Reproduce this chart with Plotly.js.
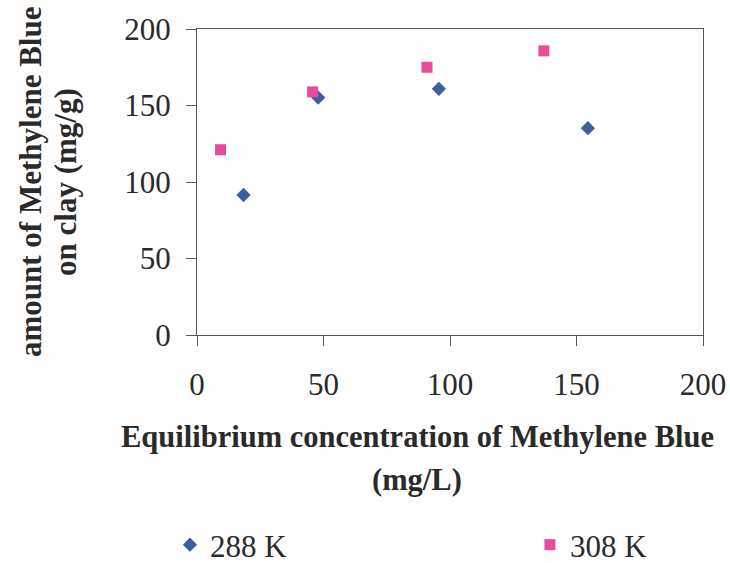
<!DOCTYPE html>
<html>
<head>
<meta charset="utf-8">
<script src="https://cdn.plot.ly/plotly-3.0.1.min.js"></script>
<style>html,body{margin:0;padding:0;background:#fff;}#chart{width:730px;height:563px;}</style>
</head>
<body>
<div id="chart"></div>
<script>
const x288 = [18.4, 47.9, 95.6, 154.5];
const y288 = [91.5, 155.2, 160.9, 135.2];
const x308 = [9.3, 45.7, 90.9, 137.1];
const y308 = [121.1, 158.9, 175.0, 185.7];
const seriesNames = ["288 K", "308 K"];
const xTicks = [0, 50, 100, 150, 200];
const yTicks = [0, 50, 100, 150, 200];
const xTitleLines = ["Equilibrium concentration of Methylene Blue", "(mg/L)"];
const yTitleLines = ["amount of Methylene Blue", "on clay (mg/g)"];

const font = "'Liberation Serif', 'Times New Roman', serif";
const ink = "#2a2a2a";
const traces = [
  {x: x288, y: y288, name: seriesNames[0], mode: "markers", type: "scatter", legend: "legend",
   marker: {symbol: "diamond", size: 11, color: "#3d5f9e"}},
  {x: x308, y: y308, name: seriesNames[1], mode: "markers", type: "scatter", legend: "legend2",
   marker: {symbol: "square", size: 11, color: "#ea4a9c"}}
];
const legendBase = {orientation: "h", yanchor: "middle", xanchor: "left",
  yref: "container", y: 1 - 545 / 563,
  bgcolor: "rgba(0,0,0,0)", font: {family: font, size: 31, color: ink}};

function titleAnn(text, x, y, angle) {
  return {text: "<b>" + text + "</b>", xref: "paper", yref: "paper", x: x, y: y,
          xanchor: "center", yanchor: "middle", showarrow: false, textangle: angle,
          font: {family: font, size: angle ? 31 : 30.5, color: ink}};
}
const layout = {
  width: 730, height: 563,
  margin: {l: 197, r: 27, t: 29, b: 228},
  paper_bgcolor: "#fff", plot_bgcolor: "#fff",
  font: {family: font, size: 31, color: ink},
  showlegend: true,
  legend: Object.assign({}, legendBase, {x: -0.0534}),
  legend2: Object.assign({}, legendBase, {x: 0.658}),
  annotations: [
    titleAnn(xTitleLines[0], 0.435, -0.333, 0),
    titleAnn(xTitleLines[1], 0.435, -0.474, 0),
    titleAnn(yTitleLines[0], -0.330, 0.5, -90),
    titleAnn(yTitleLines[1], -0.261, 0.5, -90)
  ],
  xaxis: {range: [0, 200], tickvals: xTicks, ticktext: xTicks.map(String),
          showgrid: false, zeroline: false, showline: true, mirror: true,
          linecolor: "#555", linewidth: 1, ticks: "outside", ticklen: 10, tickcolor: "#555",
          ticklabelstandoff: 12,
          tickfont: {family: font, size: 31, color: ink}},
  yaxis: {range: [0, 200], tickvals: yTicks, ticktext: yTicks.map(String),
          showgrid: false, zeroline: false, showline: true, mirror: true,
          linecolor: "#555", linewidth: 1, ticks: "outside", ticklen: 10, tickcolor: "#555",
          ticklabelstandoff: 9,
          tickfont: {family: font, size: 31, color: ink}}
};
Plotly.newPlot("chart", traces, layout, {displayModeBar: false, staticPlot: true});
</script>
</body>
</html>
